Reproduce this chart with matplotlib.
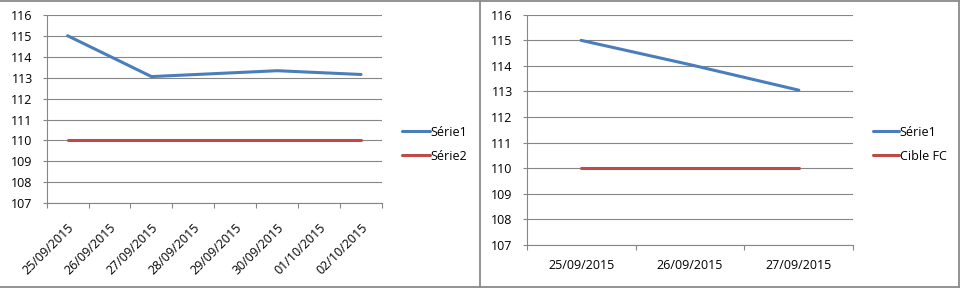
import datetime as dt
import matplotlib
matplotlib.use("Agg")
import matplotlib.pyplot as plt
import matplotlib.dates as mdates
from matplotlib.lines import Line2D

plt.rcParams["font.family"] = ["Open Sans", "DejaVu Sans"]
plt.rcParams["font.size"] = 9

# Left chart: date axis (one slot per day)
left_days = ["25/09/2015", "26/09/2015", "27/09/2015", "28/09/2015",
             "29/09/2015", "30/09/2015", "01/10/2015", "02/10/2015"]
left_dates = ["25/09/2015", "27/09/2015", "30/09/2015", "02/10/2015"]
left_serie1 = [115.0, 113.05, 113.33, 113.15]
left_serie2 = [110.0, 110.0, 110.0, 110.0]

# Right chart: three categories
right_cats = ["25/09/2015", "26/09/2015", "27/09/2015"]
right_serie1 = [115.0, 114.05, 113.05]
right_cible = [110.0, 110.0, 110.0]

y_ticks = list(range(107, 117))

BLUE = "#4A7EBB"
RED = "#BE4B48"
GRID = "#868686"
BORDER = "#8a8a8a"


def to_num(s):
    return mdates.date2num(dt.datetime.strptime(s, "%d/%m/%Y"))


def style_axes(ax):
    ax.set_ylim(107, 116)
    ax.set_yticks(y_ticks)
    ax.yaxis.grid(True, color=GRID, linewidth=0.8)
    ax.set_axisbelow(True)
    for side in ["top", "right"]:
        ax.spines[side].set_visible(False)
    for side in ["left", "bottom"]:
        ax.spines[side].set_color(GRID)
        ax.spines[side].set_linewidth(0.8)
    ax.tick_params(axis="y", length=3, width=0.8, color=GRID, pad=7)
    ax.tick_params(axis="x", which="major", length=3.5, width=0.8, color=GRID,
                   labelbottom=False)
    ax.tick_params(axis="x", which="minor", length=0)


fig = plt.figure(figsize=(9.6, 2.9), dpi=100)

# ---- left chart
ax1 = fig.add_axes([0.0486, 0.299, 0.3493, 0.650])
day_nums = [to_num(d) for d in left_days]
xs = [to_num(d) for d in left_dates]
l1, = ax1.plot(xs, left_serie1, color=BLUE, linewidth=2.2, solid_capstyle="round")
l2, = ax1.plot(xs, left_serie2, color=RED, linewidth=2.2, solid_capstyle="round")
ax1.set_xlim(day_nums[0] - 0.5, day_nums[-1] + 0.5)
ax1.set_xticks([d - 0.5 for d in day_nums] + [day_nums[-1] + 0.5])
ax1.set_xticks(day_nums, minor=True)
ax1.set_xticklabels(left_days, minor=True, rotation=45, ha="right",
                    va="top", rotation_mode="anchor")
style_axes(ax1)
ax1.tick_params(axis="x", which="minor", pad=13)
fig.legend([l1, l2], ["Série1", "Série2"], loc="center left",
           bbox_to_anchor=(401.7 / 960, 0.503), frameon=False,
           handlelength=2.25, handletextpad=0.05, labelspacing=0.9,
           borderpad=0, borderaxespad=0)

# ---- right chart
ax2 = fig.add_axes([0.5486, 0.156, 0.3402, 0.793])
pos = list(range(len(right_cats)))
r1, = ax2.plot(pos, right_serie1, color=BLUE, linewidth=2.2, solid_capstyle="round")
r2, = ax2.plot(pos, right_cible, color=RED, linewidth=2.2, solid_capstyle="round")
ax2.set_xlim(-0.5, len(right_cats) - 0.5)
ax2.set_xticks([p - 0.5 for p in pos] + [pos[-1] + 0.5])
ax2.set_xticks(pos, minor=True)
ax2.set_xticklabels(right_cats, minor=True)
style_axes(ax2)
ax2.tick_params(axis="x", which="minor", pad=10)
fig.legend([r1, r2], ["Série1", "Cible FC"], loc="center left",
           bbox_to_anchor=(873 / 960, 0.503), frameon=False,
           handlelength=2.1, handletextpad=0.05, labelspacing=0.9,
           borderpad=0, borderaxespad=0)

# panel borders
W, H = 960, 290
for (x0, y0, x1, y1) in [(0, 0.5, 959, 0.5), (0, 287, 959, 287),
                         (959, 0.5, 959, 287), (479.7, 0.5, 479.7, 287)]:
    fig.add_artist(Line2D([x0 / W, x1 / W], [1 - y0 / H, 1 - y1 / H],
                          color=BORDER, linewidth=1.3))

fig.savefig("out.png", dpi=100)
